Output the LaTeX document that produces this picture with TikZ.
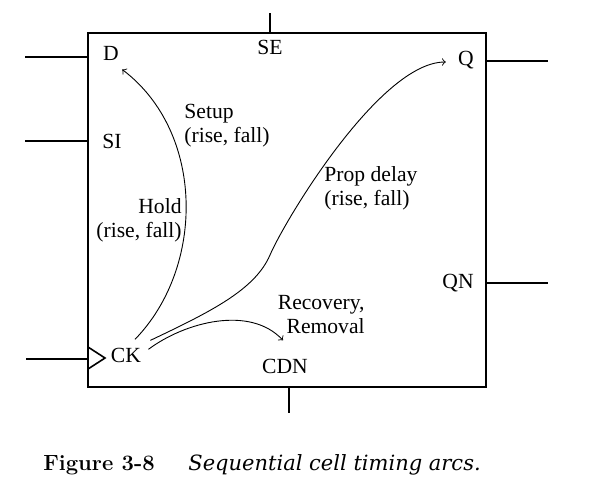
\documentclass[tikz,border=0pt]{standalone}
\usepackage{fontspec}
\newfontfamily\labelfont{Liberation Serif}
\newfontfamily\captionfont{DejaVu Serif}
\usetikzlibrary{positioning}

\begin{document}
\begin{tikzpicture}[x=0.5pt, y=-0.5pt,
    lbl/.style={font=\labelfont\fontsize{10.8}{12}\selectfont, inner sep=1pt},
    pin/.style={line width=1pt},
    timearc/.style={->, line width=0.45pt}]
    \useasboundingbox (0,0) rectangle (598,484);

    % The cell
    \node[draw, line width=1pt, minimum width=199pt, minimum height=177pt, inner sep=0pt] (cell) at (287,210) {};

    % Pins
    \draw[pin] (25,57) -- (88,57);
    \draw[pin] (25,141) -- (88,141);
    \draw[pin] (26,359) -- (88,359);
    \draw[pin] (270,13) -- (270,33);
    \draw[pin] (486,61) -- (548,61);
    \draw[pin] (486,283) -- (548,283);
    \draw[pin] (289,387) -- (289,413);
    \draw[line width=0.8pt] (88,347) -- (105,358) -- (88,369);

    % Pin names
    \node[lbl] (D) at (111,53) {D};
    \node[lbl] (SE) at (270,47) {SE};
    \node[lbl] (Q) at (466,60) {Q};
    \node[lbl] (SI) at (112,141) {SI};
    \node[lbl] (QN) at (458,283) {QN};
    \node[lbl] (CK) at (126,355) {CK};
    \node[lbl] (CDN) at (285,366) {CDN};

    % Arc labels
    \node[lbl, align=left, anchor=west] (setup) at (182,126) {Setup\\(rise, fall)};
    \node[lbl, align=right, anchor=east] (hold) at (184,220) {Hold\hspace{3pt}\\(rise, fall)};
    \node[lbl, align=left, anchor=west] (prop) at (322,188) {Prop delay\\(rise, fall)};
    \node[lbl, align=right, anchor=east] (recov) at (367,315) {Recovery,\hspace{3pt}\\Removal};

    % Timing arcs
    \draw[timearc] ([shift={(9,-6)}]CK.north) .. controls +(70,-72) and +(83,63) .. ([shift={(1,7)}]D.south east);
    \draw[timearc] ([shift={(7,-5)}]CK.north east) .. controls (210,312) and (255,290) .. (270,255)
        .. controls (285,220) and (380,62) .. ([shift={(-10,2)}]Q.west);
    \draw[timearc] ([shift={(5,4)}]CK.north east) .. controls (185,322) and (250,305) .. ([shift={(-2,-16)}]CDN.north);

    % Caption
    \node[font=\fontsize{11}{13}\selectfont, anchor=base west, inner sep=0pt] (fignum) at (43,470) {\textbf{Figure 3-8}};
    \node[font=\captionfont\fontsize{10.5}{13}\selectfont\itshape, anchor=base west, inner sep=0pt] (figtext) at (188,470) {Sequential cell timing arcs.};
\end{tikzpicture}
\end{document}
